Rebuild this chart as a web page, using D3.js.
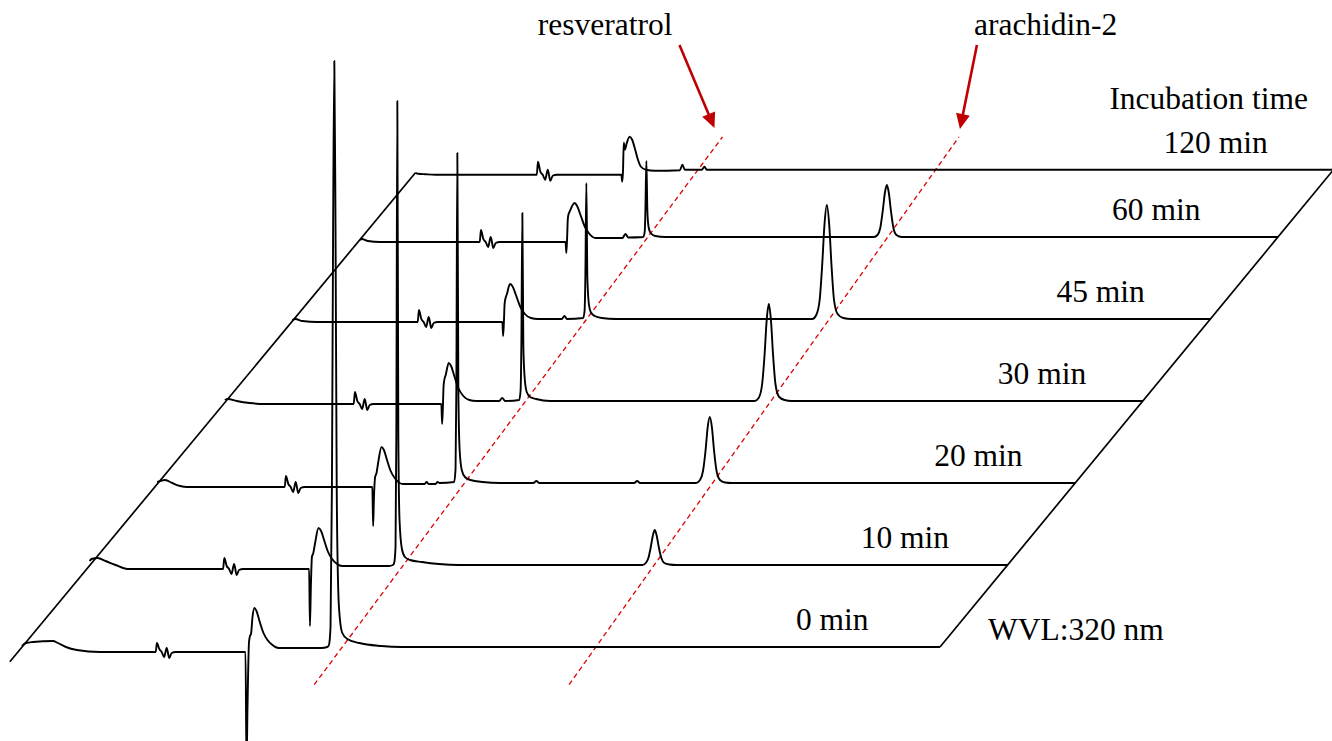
<!DOCTYPE html>
<html>
<head>
<meta charset="utf-8">
<script src="https://cdn.jsdelivr.net/npm/d3@7"></script>
<style>
  body { margin: 0; background: #fff; }
  svg text { font-family: 'Liberation Serif', 'Times New Roman', serif; font-size: 31.5px; fill: #000; }
</style>
</head>
<body>
<svg id="chart" width="1332" height="741"></svg>
<script>
// Incubation times, front row first
var incubationLabels = ['0 min', '10 min', '20 min', '30 min', '45 min', '60 min', '120 min']

// Chromatograms at 320 nm: [retention time (min), absorbance (mAU)]
var trace0min = [
  [0, 1], [0.2, 4], [0.55, 5], [1.55, 6], [1.8, 4], [2.2, 0], [2.75, -3], [3.9, -5],
  [6.7, -5], [6.76, 4], [6.88, -2], [7.0, -5], [7.12, -10], [7.25, -1], [7.38, -11], [7.5, -6], [7.7, -5],
  [11.2, -5], [11.25, -120], [11.3, -60], [11.375, 5], [11.425, 11], [11.475, 13], [11.55, 30], [11.65, 39],
  [11.75, 36], [11.9, 26], [12.1, 14], [12.3, 7], [12.55, 2], [12.85, -1], [15.0, -1], [15.3, 0],
  [15.38, 2], [15.46, 20], [15.53, 160], [15.59, 420], [15.65, 586], [15.71, 420], [15.77, 160], [15.85, 55],
  [15.93, 28], [16.05, 14], [16.3, 8], [16.9, 4], [18.0, 1], [19.0, 0], [46, 0]
]
var trace10min = [
  [0, 4], [0.1, 6], [0.4, 7], [0.8, 4], [1.3, 0], [1.9, -4],
  [6.69, -4], [6.75, 7], [6.87, -1], [6.99, -4], [7.11, -9], [7.24, 1], [7.37, -10], [7.49, -5], [7.69, -4],
  [11.0, -4], [11.04, -61], [11.09, -20], [11.14, 8], [11.21, 12], [11.3, 22], [11.47, 37], [11.6, 34],
  [11.75, 25], [11.95, 13], [12.15, 6], [12.4, 1], [12.65, -1], [15.0, -1], [15.2, 0],
  [15.26, 2], [15.33, 18], [15.37, 130], [15.42, 464], [15.47, 130], [15.53, 45], [15.65, 16], [15.8, 8],
  [16.05, 5], [16.65, 3], [17.5, 1], [18.5, 0],
  [27.7, 0], [27.87, 2], [28.0, 7], [28.12, 18], [28.22, 29], [28.32, 35], [28.42, 29], [28.52, 18],
  [28.65, 7], [28.8, 2], [29.05, 0.5], [29.4, 0], [46, 0]
]
var trace20min = [
  [0, 1], [0.15, 2], [0.4, 3], [0.75, 0], [1.15, -3], [1.5, -4],
  [6.39, -4], [6.45, 7], [6.57, -1], [6.69, -4], [6.81, -9], [6.94, 1], [7.07, -10], [7.19, -5], [7.39, -4],
  [10.78, -4], [10.82, -43], [10.86, -15], [10.92, 6], [10.99, 10], [11.07, 20], [11.24, 36], [11.36, 33],
  [11.5, 24], [11.7, 12], [11.9, 5], [12.15, 0], [12.3, -1],
  [13.4, -1], [13.5, 1], [13.6, -1], [13.95, -1], [14.05, 1], [14.15, 0],
  [14.88, 1], [14.95, 14], [14.99, 95], [15.04, 330], [15.09, 95], [15.15, 35], [15.26, 13], [15.42, 6],
  [15.7, 3], [16.3, 1], [17.2, 0],
  [18.85, 0], [19.0, 2], [19.15, 0], [23.9, 0], [24.05, 2], [24.2, 0],
  [27.0, 0], [27.2, 3], [27.35, 12], [27.48, 33], [27.58, 55], [27.69, 66], [27.8, 55], [27.9, 33],
  [28.03, 12], [28.2, 3], [28.45, 0.5], [28.8, 0], [46, 0]
]
var trace30min = [
  [0, 1], [0.15, 2], [0.6, 0], [1.25, -2], [2.0, -3],
  [6.46, -3], [6.52, 9], [6.64, 0], [6.76, -3], [6.88, -8], [7.01, 2], [7.14, -9], [7.26, -4], [7.46, -3],
  [10.85, -3], [10.89, -23], [10.93, -5], [10.96, 14], [10.99, 20], [11.07, 26], [11.22, 38], [11.34, 35],
  [11.5, 25], [11.7, 13], [11.95, 5], [12.25, 1], [12.6, 0],
  [13.75, 0], [13.9, 3], [14.05, 0],
  [14.75, 1], [14.82, 10], [14.86, 55], [14.91, 188], [14.96, 55], [15.03, 22], [15.13, 9], [15.3, 4],
  [15.6, 2], [16.3, 0],
  [26.55, 0], [26.75, 3], [26.92, 16], [27.05, 47], [27.15, 80], [27.26, 97], [27.37, 80], [27.47, 47],
  [27.6, 16], [27.78, 4], [28.05, 1], [28.4, 0], [46, 0]
]
var trace45min = [
  [0, -1], [0.15, 0], [0.5, -2], [1.25, -3],
  [6.28, -3], [6.34, 9], [6.46, 0], [6.58, -3], [6.7, -8], [6.83, 2], [6.96, -9], [7.08, -4], [7.28, -3],
  [10.52, -3], [10.56, -17], [10.6, -2], [10.63, 14], [10.66, 19], [10.75, 25], [10.9, 35], [11.02, 33],
  [11.2, 24], [11.4, 13], [11.65, 5], [11.95, 1], [12.3, 0],
  [13.5, 0], [13.63, 3], [13.76, 0],
  [14.57, 1], [14.64, 8], [14.68, 42], [14.73, 136], [14.78, 42], [14.85, 16], [14.95, 7], [15.15, 3],
  [15.5, 1], [16.2, 0],
  [26.05, 0], [26.25, 4], [26.42, 19], [26.55, 55], [26.66, 94], [26.78, 114], [26.9, 94], [27.01, 55],
  [27.14, 19], [27.32, 5], [27.6, 1], [28.0, 0], [46, 0]
]
var trace60min = [
  [0, -3], [0.1, -2], [0.4, -4], [1.0, -5],
  [6.0, -5], [6.06, 7], [6.18, -2], [6.3, -5], [6.42, -10], [6.55, 0], [6.68, -11], [6.8, -6], [7.0, -5],
  [10.3, -5], [10.34, -16], [10.38, 0], [10.41, 17], [10.44, 22], [10.52, 26], [10.75, 34], [10.88, 31],
  [11.05, 22], [11.25, 11], [11.5, 3], [11.8, -1], [12.5, -1],
  [13.15, -1], [13.3, 3], [13.45, -0.5],
  [14.2, 0], [14.27, 6], [14.3, 26], [14.35, 76], [14.4, 26], [14.46, 10], [14.56, 4], [14.8, 1], [15.3, 0],
  [25.75, 0], [25.93, 2], [26.07, 9], [26.2, 27], [26.3, 44], [26.4, 52], [26.5, 44], [26.6, 27],
  [26.73, 9], [26.88, 2], [27.15, 0], [46, 0]
]
var trace120min = [
  [0, -3], [0.15, -4], [0.5, -4.5], [1.0, -5],
  [6.08, -5], [6.14, 8], [6.26, -2], [6.38, -5], [6.5, -10], [6.63, 0], [6.76, -11], [6.88, -6], [7.08, -5],
  [10.32, -5], [10.36, -12], [10.4, -2], [10.44, 27], [10.5, 20], [10.58, 26], [10.73, 33], [10.86, 30],
  [11.0, 21], [11.15, 10], [11.3, 3], [11.55, 0], [12.0, -1],
  [13.25, -0.5], [13.38, 5], [13.5, 0], [14.35, 0], [14.48, 3], [14.6, 0], [46, 0]
]
var traces = [trace0min, trace10min, trace20min, trace30min, trace45min, trace60min, trace120min]

// Peak guides: retention time where the guide leaves the front and the back of the stack
var peakNames = ['resveratrol', 'arachidin-2']
var peakGuideFront = [16.2, 28.97]
var peakGuideBack = [14.03, 25.88]

// Layout
var rowSlot = [0, 1, 2, 3, 4, 5, 5.82]
var labelNudge = [2, 7, 13, 9, 0, -12, -8]
var guideSlots = [-0.46, 6.22]
var arrowTail = [[-35, -83], [17, -84]]
var arrowTipShift = [[-8, -9], [1, -8]]
var origin = {x: 22, y: 647}

var svg = d3.select('#chart')

var xScale = d3.scaleLinear().domain([0, 46]).range([0, 918])
var yScale = d3.scaleLinear().domain([0, 600]).range([0, 600])
var depthX = d3.scaleLinear().domain([0, 6]).range([0, 405.6])
var depthY = d3.scaleLinear().domain([0, 6]).range([0, 492])

function project(t, slot, mau) {
  return [origin.x + xScale(t) + depthX(slot), origin.y - depthY(slot) - yScale(mau)]
}

var line = d3.line()
  .x(d => d[0])
  .y(d => d[1])
  .curve(d3.curveMonotoneX)

// Frame edges (left = start of run, right = end of run)
var lastSlot = rowSlot[rowSlot.length - 1]
var firstPt = traces[traces.length - 1][0]
svg.append('path')
  .attr('d', d3.line()([project(0, -0.18, 0), project(firstPt[0], lastSlot, firstPt[1])]))
  .attr('stroke', '#000').attr('stroke-width', 1.7).attr('fill', 'none')
svg.append('path')
  .attr('d', d3.line()([project(46, 0, 0), project(46, lastSlot + 0.1, 0)]))
  .attr('stroke', '#000').attr('stroke-width', 1.7).attr('fill', 'none')

// Peak guide lines
peakNames.forEach((name, i) => {
  var p0 = project(peakGuideFront[i], guideSlots[0], 0)
  var p1 = project(peakGuideBack[i], guideSlots[1], 0)
  svg.append('line')
    .attr('x1', p0[0]).attr('y1', p0[1])
    .attr('x2', p1[0]).attr('y2', p1[1])
    .attr('stroke', '#dd0000')
    .attr('stroke-width', 1.3)
    .attr('stroke-dasharray', '5,3.5')
})

// Chromatograms
traces.forEach((trace, i) => {
  var pts = trace.map(d => project(d[0], rowSlot[i], d[1]))
  svg.append('path')
    .attr('d', line(pts))
    .attr('fill', 'none')
    .attr('stroke', '#000')
    .attr('stroke-width', 1.9)
    .attr('stroke-linejoin', 'round')
})

// Row labels
incubationLabels.forEach((label, i) => {
  var p = project(40.5, rowSlot[i], 17)
  svg.append('text')
    .attr('x', p[0] + labelNudge[i])
    .attr('y', p[1])
    .attr('text-anchor', 'middle')
    .text(label)
})

var topLabel = project(40.5, lastSlot, 61)
svg.append('text')
  .attr('x', topLabel[0] - 15)
  .attr('y', topLabel[1])
  .attr('text-anchor', 'middle')
  .text('Incubation time')

var corner = project(46, 0, 0)
svg.append('text')
  .attr('x', corner[0] + 48)
  .attr('y', corner[1] - 7)
  .text('WVL:320 nm')

// Arrows and peak names
peakNames.forEach((name, i) => {
  var top = project(peakGuideBack[i], guideSlots[1], 0)
  var tip = [top[0] + arrowTipShift[i][0], top[1] + arrowTipShift[i][1]]
  var tail = [tip[0] + arrowTail[i][0], tip[1] + arrowTail[i][1]]
  var len = Math.hypot(tip[0] - tail[0], tip[1] - tail[1])
  var u = [(tip[0] - tail[0]) / len, (tip[1] - tail[1]) / len]
  var n = [-u[1], u[0]]
  var headLen = 15, headHalf = 7
  svg.append('line')
    .attr('x1', tail[0]).attr('y1', tail[1])
    .attr('x2', tip[0] - u[0] * 12).attr('y2', tip[1] - u[1] * 12)
    .attr('stroke', '#c00000')
    .attr('stroke-width', 2.6)
  var b = [tip[0] - u[0] * headLen, tip[1] - u[1] * headLen]
  svg.append('path')
    .attr('d', 'M' + tip + 'L' + [b[0] + n[0] * headHalf, b[1] + n[1] * headHalf] +
      'L' + [b[0] - n[0] * headHalf, b[1] - n[1] * headHalf] + 'Z')
    .attr('fill', '#c00000')
  svg.append('text')
    .attr('x', i == 0 ? tail[0] - 7 : tail[0] - 3)
    .attr('y', tail[1] - 10)
    .attr('text-anchor', i == 0 ? 'end' : 'start')
    .text(name)
})
</script>
</body>
</html>
